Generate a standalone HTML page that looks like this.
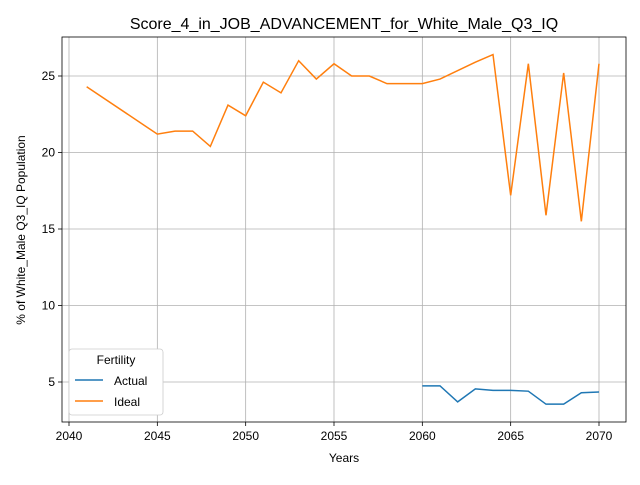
<!DOCTYPE html>
<html><head><meta charset="utf-8"><style>body{margin:0;background:#fff}svg text{font-family:"Liberation Sans","DejaVu Sans",sans-serif}</style></head>
<body>
<svg id="chart" width="640" height="480" xmlns="http://www.w3.org/2000/svg"></svg>
<script>
const idealYears=[2041,2045,2046,2047,2048,2049,2050,2051,2052,2053,2054,2055,2056,2057,2058,2059,2060,2061,2063,2064,2065,2066,2067,2068,2069,2070];
const idealValues=[24.3,21.2,21.4,21.4,20.4,23.1,22.4,24.6,23.9,26.0,24.8,25.8,25.0,25.0,24.5,24.5,24.5,24.8,25.9,26.4,17.2,25.8,15.9,25.2,15.5,25.8];
const actualYears=[2060,2061,2062,2063,2064,2065,2066,2067,2068,2069,2070];
const actualValues=[4.75,4.75,3.7,4.55,4.45,4.45,4.4,3.55,3.55,4.3,4.35];
const xTicks=[2040,2045,2050,2055,2060,2065,2070];
const yTicks=[5,10,15,20,25];
const L=62,R=626,T=37,B=422;
const x=v=>69+(v-2040)*(530/30);
const y=v=>76+(25-v)*15.3;
const svg=document.getElementById('chart');
const NS='http://www.w3.org/2000/svg';
function mk(t,a,p){const e=document.createElementNS(NS,t);for(const k in a)e.setAttribute(k,a[k]);(p||svg).appendChild(e);return e;}
let e;
xTicks.forEach(t=>{
e=mk('line',{x1:x(t),x2:x(t),y1:T,y2:B,stroke:'#b0b0b0','stroke-width':0.8});

e=mk('line',{x1:x(t),x2:x(t),y1:B,y2:B+4,stroke:'#000','stroke-width':0.8});

e=mk('text',{x:x(t),y:B+18,'text-anchor':'middle','font-size':12});e.textContent=t;

});
yTicks.forEach(t=>{
e=mk('line',{x1:L,x2:R,y1:y(t),y2:y(t),stroke:'#b0b0b0','stroke-width':0.8});

e=mk('line',{x1:L-4,x2:L,y1:y(t),y2:y(t),stroke:'#000','stroke-width':0.8});

e=mk('text',{x:L-7,y:y(t)+4,'text-anchor':'end','font-size':12});e.textContent=t;

});
function line(xs,vs,c,n){
e=mk('polyline',{points:xs.map((d,i)=>x(d)+','+y(vs[i])).join(' '),fill:'none',stroke:c,'stroke-width':1.5});

}
line(actualYears,actualValues,'#1f77b4','actual-line');
line(idealYears,idealValues,'#ff7f0e','ideal-line');
e=mk('rect',{x:L,y:T,width:R-L,height:B-T,fill:'none',stroke:'#000','stroke-width':0.8});

e=mk('text',{x:344,y:29,'text-anchor':'middle','font-size':16});e.textContent='Score_4_in_JOB_ADVANCEMENT_for_White_Male_Q3_IQ';

e=mk('text',{x:344,y:462,'text-anchor':'middle','font-size':12});e.textContent='Years';

e=mk('text',{x:25,y:230,'text-anchor':'middle','font-size':12,transform:'rotate(-90 25 230)'});e.textContent='% of White_Male Q3_IQ Population';

const g=mk('g',{});
mk('rect',{x:69,y:349,width:94,height:66,rx:3,fill:'#fff',stroke:'#ccc','stroke-width':0.8},g);
mk('text',{x:116,y:364,'text-anchor':'middle','font-size':12},g).textContent='Fertility';
e=mk('line',{x1:75,x2:103,y1:380,y2:380,stroke:'#1f77b4','stroke-width':1.5},g);

mk('text',{x:114,y:385,'font-size':12},g).textContent='Actual';
e=mk('line',{x1:75,x2:103,y1:401,y2:401,stroke:'#ff7f0e','stroke-width':1.5},g);

mk('text',{x:114,y:406,'font-size':12},g).textContent='Ideal';
</script>
</body></html>
